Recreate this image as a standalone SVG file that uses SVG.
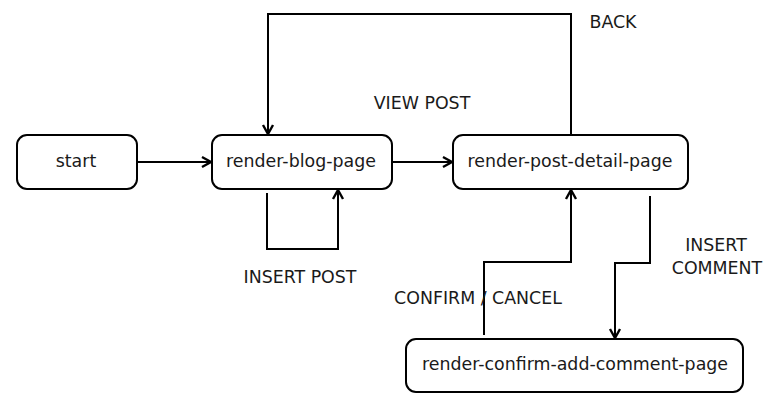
<svg xmlns="http://www.w3.org/2000/svg" width="776" height="411" viewBox="0 0 776 411">
<defs>
<style>
.node rect{fill:#fff;stroke:#000;stroke-width:2}
text{font-family:"DejaVu Sans",sans-serif;font-size:17.4px;fill:#1a1a1a}
.node text{text-anchor:middle;dominant-baseline:central}
.lbl{font-size:17.4px}
.conn path{fill:none;stroke:#000;stroke-width:2}
</style>
<marker id="arr" markerWidth="14" markerHeight="14" viewBox="0 0 14 14" refX="12" refY="7" orient="auto" markerUnits="userSpaceOnUse">
<path d="M3,2 L12,7 L3,12" fill="none" stroke="#000" stroke-width="2.4"/>
</marker>
</defs>
<rect width="776" height="411" fill="#fff"/>
<g class="conn">
<path d="M137,162 H211" marker-end="url(#arr)"/>
<path d="M392,162 H452" marker-end="url(#arr)"/>
<path d="M571,135 V14 H268 V134" marker-end="url(#arr)"/>
<path d="M267,193 V249 H338 V190" marker-end="url(#arr)"/>
<path d="M484,335 V262 H571 V190" marker-end="url(#arr)"/>
<path d="M650,196 V263 H615 V338" marker-end="url(#arr)"/>
</g>
<g id="start" class="node"><rect x="17" y="135" width="120" height="54" rx="10"/><text x="76" y="161">start</text></g>
<g id="render-blog-page" class="node"><rect x="212" y="135" width="180" height="54" rx="10"/><text x="301" y="161">render-blog-page</text></g>
<g id="render-post-detail-page" class="node"><rect x="453" y="135" width="235" height="54" rx="10"/><text x="570" y="161">render-post-detail-page</text></g>
<g id="render-confirm-add-comment-page" class="node"><rect x="406" y="339" width="337" height="53" rx="10"/><text x="575" y="364">render-confirm-add-comment-page</text></g>
<g id="labels">
<text class="lbl" x="613" y="28" text-anchor="middle">BACK</text>
<text class="lbl" x="422" y="109" text-anchor="middle">VIEW POST</text>
<text class="lbl" x="300" y="283" text-anchor="middle">INSERT POST</text>
<text class="lbl" x="478" y="304" text-anchor="middle">CONFIRM / CANCEL</text>
<text class="lbl" x="716" y="251" text-anchor="middle">INSERT</text>
<text class="lbl" x="717" y="274" text-anchor="middle">COMMENT</text>
</g>
</svg>
